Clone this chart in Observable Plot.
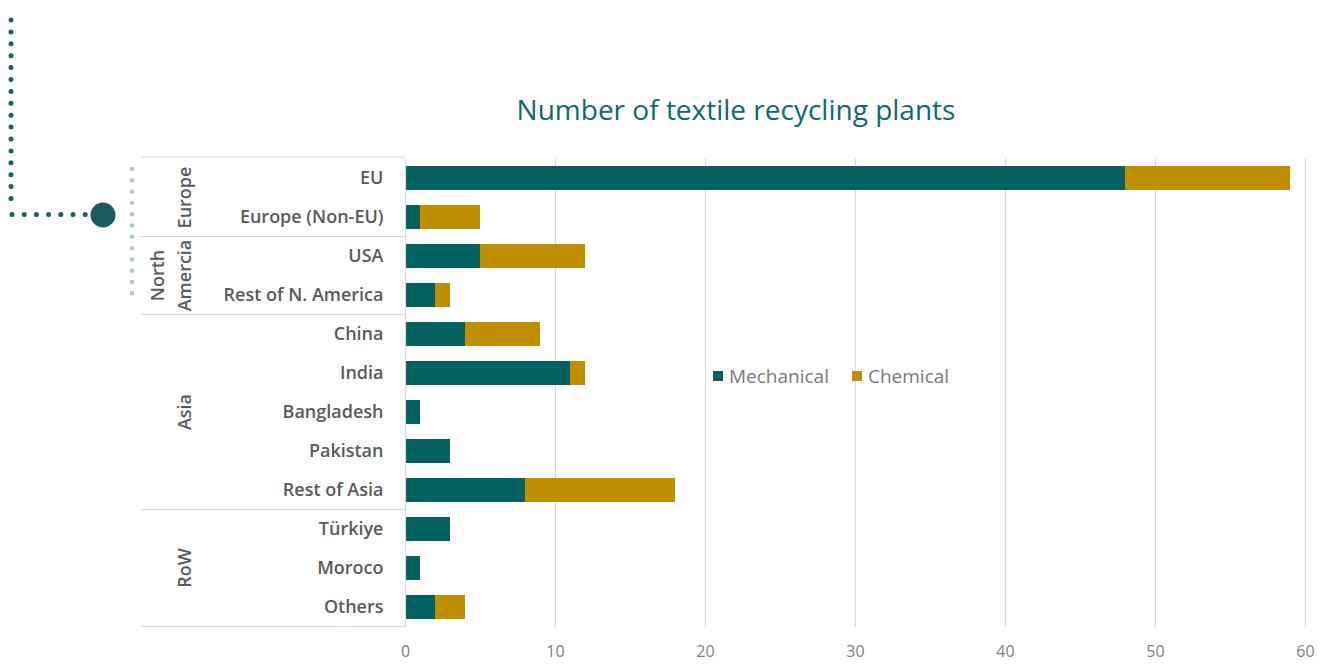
<!DOCTYPE html>
<html><head><meta charset="utf-8">
<script src="https://cdn.jsdelivr.net/npm/d3@7"></script>
<script src="https://cdn.jsdelivr.net/npm/@observablehq/plot@0.6"></script>
<style>
body{margin:0;background:#fff;font-family:"Open Sans",sans-serif;}
#wrap{position:relative;width:1320px;height:664px;overflow:hidden;background:#fff;}
#title{height:140px;box-sizing:border-box;padding-top:92px;padding-left:152px;text-align:center;font-size:28px;line-height:34px;color:#0f6a6a;}
#chart svg{display:block;}
#legend{position:absolute;left:713px;top:363px;display:flex;align-items:center;font-size:19px;color:#7a7a7a;}
#legend .item{display:flex;align-items:center;margin-right:23px;}
#legend .sw{width:10px;height:10px;margin-right:6px;}
#deco{position:absolute;left:0;top:0;pointer-events:none;}
</style></head><body>
<div id="wrap">
  <div id="title">Number of textile recycling plants</div>
  <div id="chart"></div>
  <div id="legend"></div>
  <svg id="deco" width="1320" height="664"></svg>
</div>
<script>
const countries = ["EU","Europe (Non-EU)","USA","Rest of N. America","China","India","Bangladesh","Pakistan","Rest of Asia","Türkiye","Moroco","Others"];
const mechanical = [48,1,5,2,4,11,1,3,8,3,1,2];
const chemical   = [11,4,7,1,5,1,0,0,10,0,0,2];
const series = ["Mechanical","Chemical"];
const colors = ["#03625f","#bf8f00"];
const regionLabels = [["Europe"],["North","Amercia"],["Asia"],["RoW"]];
const regionSizes = [2,2,5,3];
const xTicks = [0,10,20,30,40,50,60];

const rows = [];
countries.forEach((c,i)=>{
  rows.push({country:c, series:series[0], value:mechanical[i]});
  rows.push({country:c, series:series[1], value:chemical[i]});
});

const plot = Plot.plot({
  width:1320, height:524,
  marginLeft:405, marginRight:15, marginTop:18.5, marginBottom:37,
  style:{fontFamily:"Open Sans", fontSize:"16px", color:"#595959", background:"transparent", overflow:"visible"},
  x:{domain:[0,60], label:null},
  y:{domain:countries, paddingInner:0.385, paddingOuter:0.1925, label:null},
  color:{domain:series, range:colors},
  marks:[
    Plot.gridX(xTicks.slice(1), {stroke:"#d9d9d9", strokeOpacity:1, strokeWidth:1.2}),
    Plot.barX(rows, {x:"value", y:"country", fill:"series"}),
    Plot.ruleX([0], {stroke:"#d9d9d9", strokeWidth:1.2}),
    Plot.axisX({ticks:xTicks, tickSize:0, tickPadding:18, fill:"#808080", fontSize:16}),
    Plot.axisY({tickSize:0, tickPadding:22, fill:"#5a5a5a", fontWeight:600, fontSize:18})
  ]
});
document.getElementById("chart").appendChild(plot);

// region table drawn from the y scale
const ys = plot.scale("y");
const xs = plot.scale("x");
const step = ys.step;
const center = c => ys.apply(c) + ys.bandwidth/2;
const svg = d3.select(plot);
const tableLeft = 141;
const tableRight = xs.apply(0);
const g = svg.append("g");
let idx = 0;
const bounds = [center(countries[0]) - step/2 - 1.5];
regionSizes.forEach((n,r)=>{
  const first = countries[idx], last = countries[idx+n-1];
  const mid = (center(first)+center(last))/2;
  const lines = regionLabels[r];
  lines.forEach((t,k)=>{
    const x = 185 - 27*(lines.length-1-k);
    g.append("text").attr("transform",`translate(${x},${mid}) rotate(-90)`)
      .attr("text-anchor","middle").attr("dy","0.35em")
      .attr("fill","#5a5a5a").attr("font-weight",600).attr("font-size",18)
      .attr("font-family","Open Sans").text(t);
  });
  idx += n;
  bounds.push(center(last) + step/2);
});
bounds.forEach(b=>{
  g.append("line").attr("x1",tableLeft).attr("x2",tableRight).attr("y1",b).attr("y2",b)
    .attr("stroke","#d9d9d9").attr("stroke-width",1.2);
});

// legend
const leg = d3.select("#legend");
series.forEach((s,i)=>{
  const it = leg.append("div").attr("class","item");
  it.append("div").attr("class","sw").style("background",colors[i]);
  it.append("span").text(s);
});

// decorative connector
const deco = d3.select("#deco");
for (let y=20; y<=202; y+=11.9) deco.append("circle").attr("cx",11).attr("cy",y).attr("r",2.5).attr("fill","#1c5f66");
for (let x=12; x<=86; x+=12.2) deco.append("circle").attr("cx",x).attr("cy",214.5).attr("r",2.5).attr("fill","#1c5f66");
deco.append("circle").attr("cx",103).attr("cy",215).attr("r",12.5).attr("fill","#1b5c63");
for (let y=169; y<=304; y+=11.3) deco.append("circle").attr("cx",132).attr("cy",y).attr("r",2.2).attr("fill","#abc9c9");
</script>
</body></html>
